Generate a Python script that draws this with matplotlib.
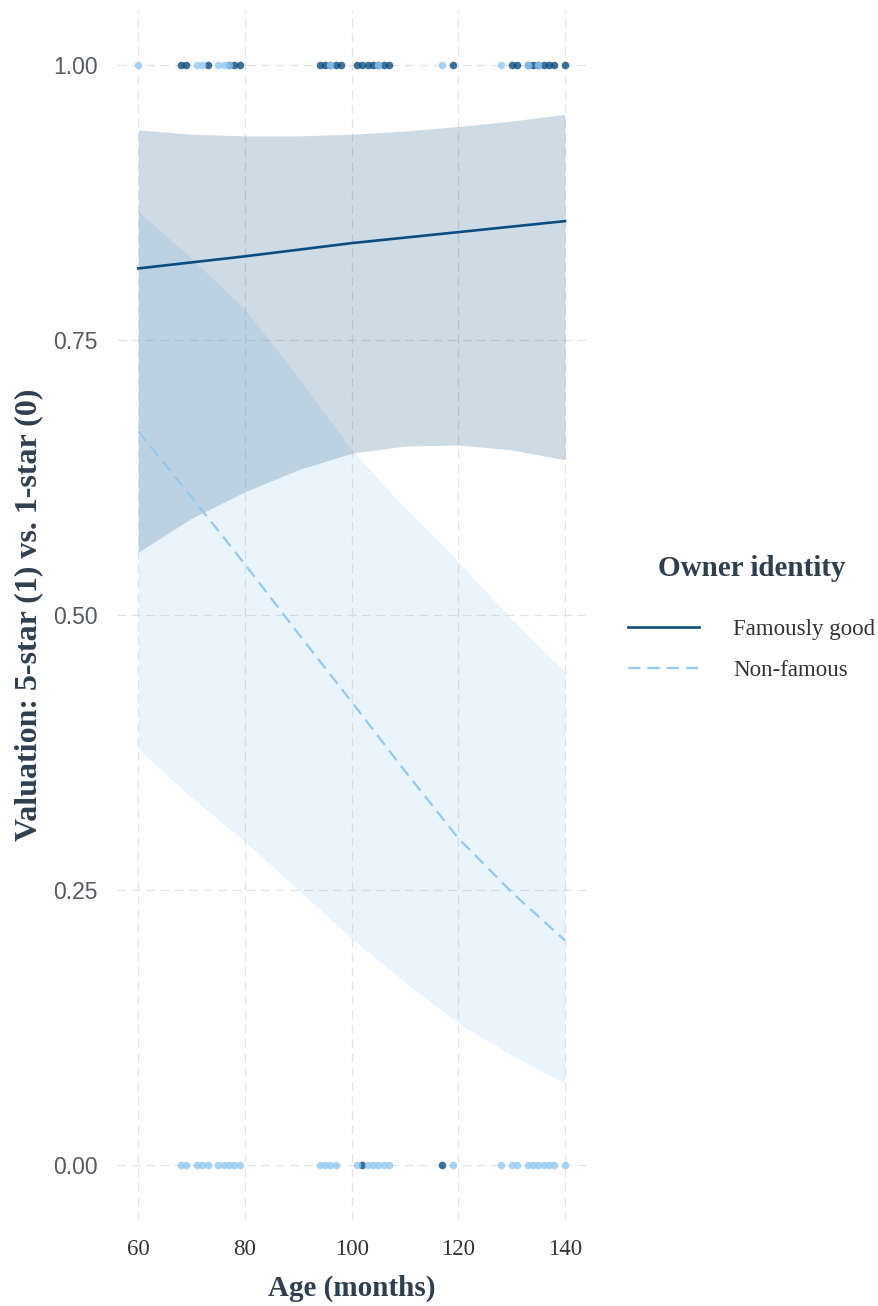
import matplotlib
matplotlib.use("Agg")
import matplotlib.pyplot as plt
from matplotlib.lines import Line2D

# observed valuations (1 = 5-star, 0 = 1-star) by owner identity
famous_age_1 = [68, 69, 73, 77, 78, 79, 94, 95, 96, 97, 98, 101, 102, 103, 104, 105,
                106, 107, 119, 130, 131, 133, 134, 135, 136, 137, 138, 140]
famous_age_0 = [102, 117]
nonfamous_age_1 = [60, 71, 72, 75, 76, 77, 96, 105, 117, 128, 133, 135]
nonfamous_age_0 = [68, 69, 71, 72, 73, 75, 76, 77, 78, 79, 94, 95, 96, 97, 101, 103,
                   104, 105, 106, 107, 119, 128, 130, 131, 133, 134, 135, 136, 137,
                   138, 140]

# fitted probabilities with confidence bands
age_grid = [60, 70, 80, 90, 100, 110, 120, 130, 140]
famous_fit = [0.815, 0.8205, 0.826, 0.832, 0.838, 0.843, 0.848, 0.853, 0.858]
famous_lo = [0.557, 0.588, 0.612, 0.632, 0.647, 0.6535, 0.6545, 0.650, 0.641]
famous_hi = [0.941, 0.937, 0.9355, 0.9355, 0.937, 0.940, 0.944, 0.949, 0.955]
nonfamous_fit = [0.667, 0.607, 0.546, 0.483, 0.421, 0.358, 0.297, 0.248, 0.204]
nonfamous_lo = [0.378, 0.334, 0.294, 0.250, 0.206, 0.166, 0.129, 0.100, 0.074]
nonfamous_hi = [0.867, 0.824, 0.778, 0.716, 0.650, 0.597, 0.5485, 0.496, 0.4485]

x_ticks = [60, 80, 100, 120, 140]
y_ticks = [0.00, 0.25, 0.50, 0.75, 1.00]

dark = "#0B4C80"
light = "#93C9F3"
title_col = "#2E3F50"
serif = ["Liberation Serif", "DejaVu Serif"]
sans = ["Liberation Sans", "DejaVu Sans"]

fig = plt.figure(figsize=(8.79, 13.06), dpi=100)
ax = fig.add_axes([0.1331, 0.0659, 0.5339, 0.9265])

# points
ax.scatter(famous_age_1, [1] * len(famous_age_1), s=30, color=dark, alpha=0.8, lw=0, zorder=3)
ax.scatter(famous_age_0, [0] * len(famous_age_0), s=30, color=dark, alpha=0.8, lw=0, zorder=3)
ax.scatter(nonfamous_age_1, [1] * len(nonfamous_age_1), s=30, color=light, alpha=0.8, lw=0, zorder=3)
ax.scatter(nonfamous_age_0, [0] * len(nonfamous_age_0), s=30, color=light, alpha=0.8, lw=0, zorder=3)

# ribbons + fitted lines
ax.fill_between(age_grid, nonfamous_lo, nonfamous_hi, color=light, alpha=0.2, lw=0, zorder=2)
ax.fill_between(age_grid, famous_lo, famous_hi, color=dark, alpha=0.2, lw=0, zorder=2)
ax.plot(age_grid, famous_fit, color=dark, lw=1.9, zorder=4)
ax.plot(age_grid, nonfamous_fit, color=light, lw=1.6, ls=(0, (5.5, 3.2)), zorder=4)

ax.set_xlim(56, 144)
ax.set_ylim(-0.05, 1.05)
ax.set_xticks(x_ticks)
ax.set_yticks(y_ticks)
ax.set_yticklabels([f"{v:.2f}" for v in y_ticks])
ax.grid(True, color="#E3E3E3", lw=0.9, ls=(0, (7, 4.5)), zorder=0)
ax.set_axisbelow(True)
for s in ax.spines.values():
    s.set_visible(False)
ax.tick_params(length=0, pad=14)
for lab in ax.get_xticklabels():
    lab.set_fontfamily(serif)
    lab.set_fontsize(16.5)
    lab.set_color("#333333")
for lab in ax.get_yticklabels():
    lab.set_fontfamily(sans)
    lab.set_fontsize(16.5)
    lab.set_color("#555a60")

ax.set_xlabel("Age (months)", fontfamily=serif, fontsize=21, fontweight="bold",
              color=title_col, labelpad=10)
ax.set_ylabel("Valuation: 5-star (1) vs. 1-star (0)", fontfamily=serif, fontsize=23,
              fontweight="bold", color=title_col, labelpad=7)

handles = [Line2D([], [], color=dark, lw=1.9),
           Line2D([], [], color=light, lw=1.6, ls=(0, (5.5, 3.2)))]
leg = fig.legend(handles, ["Famously good", "Non-famous"], loc="center left",
                 bbox_to_anchor=(0.691, 0.527), frameon=False,
                 prop={"family": serif, "size": 16.5}, handlelength=3.1,
                 handletextpad=1.5, labelspacing=0.85)
leg.set_title("Owner identity", prop={"family": serif, "size": 21, "weight": "bold"})
leg.get_title().set_color(title_col)
leg._legend_box.sep = 27
for t in leg.get_texts():
    t.set_color("#333333")

fig.savefig("out.png", dpi=100)
